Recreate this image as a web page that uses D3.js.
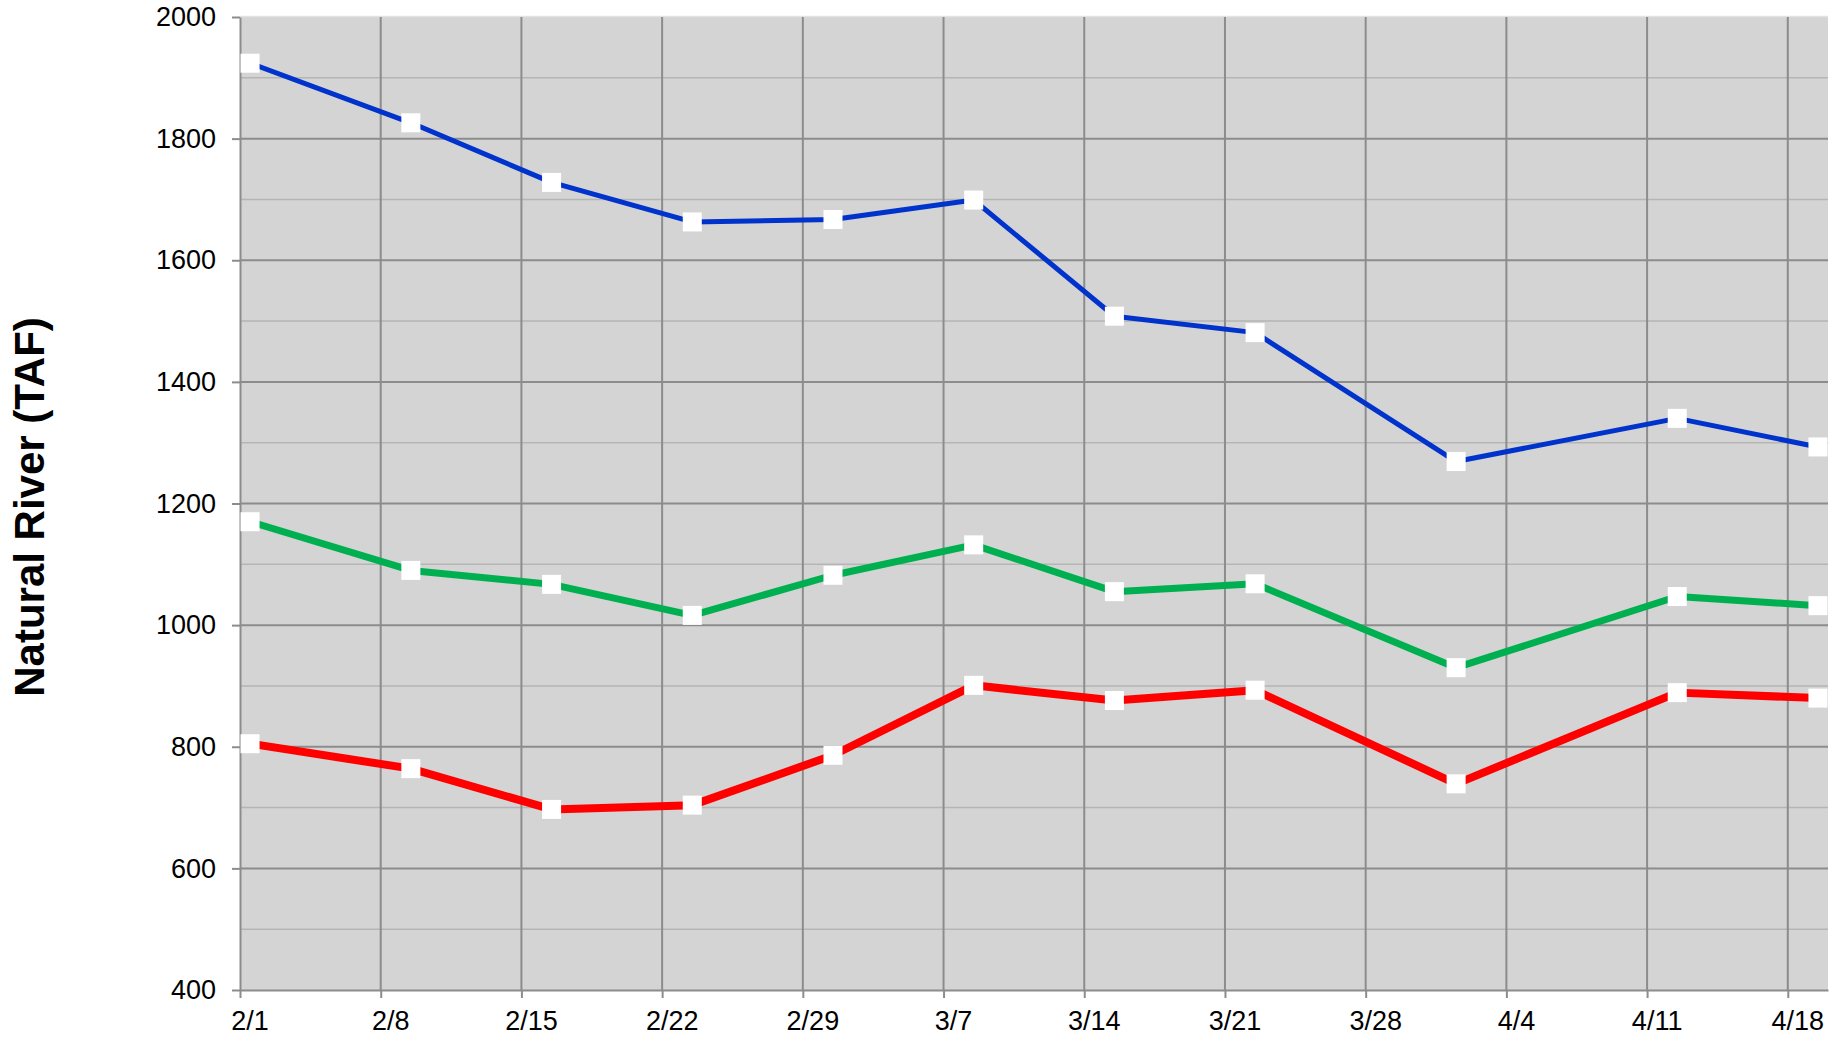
<!DOCTYPE html>
<html>
<head>
<meta charset="utf-8">
<script src="https://cdn.jsdelivr.net/npm/d3@7"></script>
<style>
  body { margin: 0; background: #fff; }
  text { font-family: "Liberation Sans", Arial, sans-serif; fill: #000; }
</style>
</head>
<body>
<div id="svg-area"></div>
<script>
// data (2008, a leap year)
var dates = ["2/1", "2/9", "2/16", "2/23", "3/1", "3/8", "3/15", "3/22", "4/1", "4/12", "4/19"];
var blueValues = [1924, 1826, 1728, 1663, 1667, 1699, 1508, 1481, 1269, 1340, 1293];
var greenValues = [1170, 1090, 1067, 1016, 1082, 1132, 1055, 1068, 930, 1047, 1032];
var redValues = [805, 764, 697, 704, 786, 901, 876, 893, 739, 889, 880];
var yTicks = [400, 600, 800, 1000, 1200, 1400, 1600, 1800, 2000];
var yMinorTicks = [500, 700, 900, 1100, 1300, 1500, 1700, 1900];

var svgWidth = 1833;
var svgHeight = 1038;

var margin = { top: 17, right: 5, bottom: 48, left: 240 };
var chartWidth = svgWidth - margin.left - margin.right;
var chartHeight = svgHeight - margin.top - margin.bottom;

function parseDate(s) {
  var p = s.split("/");
  return new Date(Date.UTC(2008, +p[0] - 1, +p[1]));
}

var series = [
  { values: redValues, color: "#ff0000", width: 8 },
  { values: greenValues, color: "#00b050", width: 7 },
  { values: blueValues, color: "#0033cc", width: 5 }
];

var svg = d3.select("#svg-area")
  .append("svg")
  .attr("width", svgWidth)
  .attr("height", svgHeight);

var chartGroup = svg.append("g")
  .attr("transform", `translate(${margin.left}, ${margin.top})`);

// scales
var xScale = d3.scaleUtc()
  .domain([parseDate("2/1"), parseDate("4/20")])
  .range([0, chartWidth]);

var yScale = d3.scaleLinear()
  .domain([400, 2000])
  .range([chartHeight, 0]);

var weekTicks = d3.utcDay.range(parseDate("2/1"), parseDate("4/19"), 7);

// plot background
chartGroup.append("rect")
  .attr("width", chartWidth)
  .attr("height", chartHeight)
  .attr("fill", "#d4d4d4");

chartGroup.append("line")
  .attr("x1", 0).attr("x2", chartWidth)
  .attr("y1", -0.5).attr("y2", -0.5)
  .attr("stroke", "#e2e2e2")
  .attr("stroke-width", 1.5);

// minor gridlines
chartGroup.selectAll(".minor")
  .data(yMinorTicks)
  .enter()
  .append("line")
  .attr("x1", 0).attr("x2", chartWidth)
  .attr("y1", d => yScale(d)).attr("y2", d => yScale(d))
  .attr("stroke", "#b5b5b5")
  .attr("stroke-width", 1.5);

// major gridlines
chartGroup.selectAll(".major")
  .data(yTicks.filter(d => d > 400 && d < 2000))
  .enter()
  .append("line")
  .attr("x1", 0).attr("x2", chartWidth)
  .attr("y1", d => yScale(d)).attr("y2", d => yScale(d))
  .attr("stroke", "#8c8c8c")
  .attr("stroke-width", 2);

chartGroup.selectAll(".vgrid")
  .data(weekTicks.slice(1))
  .enter()
  .append("line")
  .attr("x1", d => xScale(d)).attr("x2", d => xScale(d))
  .attr("y1", 0).attr("y2", chartHeight)
  .attr("stroke", "#8c8c8c")
  .attr("stroke-width", 2);

// axes
var leftAxis = d3.axisLeft(yScale)
  .tickValues(yTicks)
  .tickFormat(d3.format("d"))
  .tickSizeInner(8)
  .tickSizeOuter(0)
  .tickPadding(16);

var bottomAxis = d3.axisBottom(xScale)
  .tickValues(weekTicks)
  .tickSizeInner(8)
  .tickSizeOuter(0)
  .tickFormat("");

var yAxisGroup = chartGroup.append("g").call(leftAxis);
yAxisGroup.select(".domain").attr("stroke", "#8c8c8c").attr("stroke-width", 2);
yAxisGroup.selectAll(".tick line").attr("stroke", "#8c8c8c").attr("stroke-width", 2);
yAxisGroup.selectAll(".tick text")
  .attr("font-family", "Liberation Sans, Arial, sans-serif")
  .attr("font-size", 27)
  .attr("fill", "#000");

var xAxisGroup = chartGroup.append("g")
  .attr("transform", `translate(0, ${chartHeight})`)
  .call(bottomAxis);
xAxisGroup.select(".domain").attr("stroke", "#8c8c8c").attr("stroke-width", 2);
xAxisGroup.selectAll(".tick line").attr("stroke", "#8c8c8c").attr("stroke-width", 2);

// x labels are centred on the middle of the day
chartGroup.selectAll(".xlabel")
  .data(weekTicks)
  .enter()
  .append("text")
  .attr("x", d => xScale(d3.utcHour.offset(d, 12)))
  .attr("y", chartHeight + 40)
  .attr("text-anchor", "middle")
  .attr("font-size", 27)
  .text(d3.utcFormat("%-m/%-d"));

// lines and markers
var line = d3.line()
  .x((d, i) => xScale(d3.utcHour.offset(parseDate(dates[i]), 12)))
  .y(d => yScale(d));

series.forEach(function(s) {
  chartGroup.append("path")
    .datum(s.values)
    .attr("d", line)
    .attr("fill", "none")
    .attr("stroke", s.color)
    .attr("stroke-width", s.width)
    .attr("stroke-linejoin", "round");
});

var markerSize = 19;
series.forEach(function(s) {
  chartGroup.selectAll(null)
    .data(s.values)
    .enter()
    .append("rect")
    .attr("x", (d, i) => xScale(d3.utcHour.offset(parseDate(dates[i]), 12)) - markerSize / 2)
    .attr("y", d => yScale(d) - markerSize / 2)
    .attr("width", markerSize)
    .attr("height", markerSize)
    .attr("fill", "#fff");
});

// y axis title
svg.append("text")
  .attr("transform", "translate(44, 507) rotate(-90)")
  .attr("text-anchor", "middle")
  .attr("font-size", 42)
  .attr("font-weight", "bold")
  .text("Natural River (TAF)");
</script>
</body>
</html>
